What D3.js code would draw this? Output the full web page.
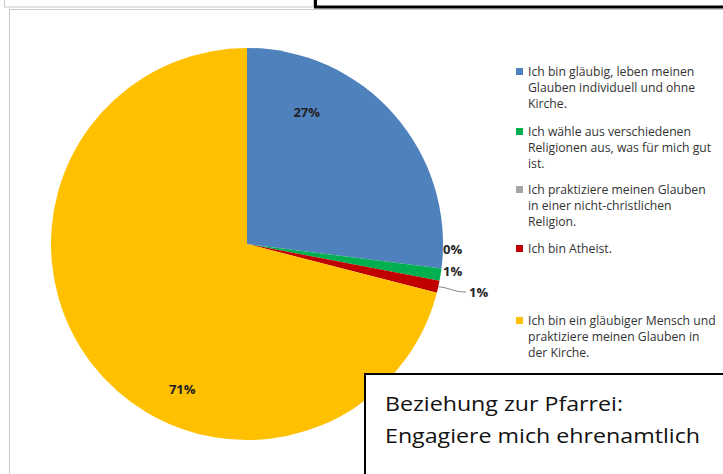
<!DOCTYPE html>
<html>
<head>
<meta charset="utf-8">
<script src="https://cdn.jsdelivr.net/npm/d3@7"></script>
<style>
  body { margin: 0; background: #fff; }
  svg { display: block; }
</style>
</head>
<body>
<div id="chart"></div>
<script>
// Antworten (Reihenfolge wie in der Legende)
const kategorien = [
  "Ich bin gläubig, leben meinen Glauben individuell und ohne Kirche.",
  "Ich wähle aus verschiedenen Religionen aus, was für mich gut ist.",
  "Ich praktiziere meinen Glauben in einer nicht-christlichen Religion.",
  "Ich bin Atheist.",
  "Ich bin ein gläubiger Mensch und praktiziere meinen Glauben in der Kirche."
];
const legendeZeilen = [
  ["Ich bin gläubig, leben meinen", "Glauben individuell und ohne", "Kirche."],
  ["Ich wähle aus verschiedenen", "Religionen aus, was für mich gut", "ist."],
  ["Ich praktiziere meinen Glauben", "in einer nicht-christlichen", "Religion."],
  ["Ich bin Atheist."],
  ["Ich bin ein gläubiger Mensch und", "praktiziere meinen Glauben in", "der Kirche."]
];
const werte = [27, 1, 0, 1, 71];
const farben = ["#4F81BD", "#00B050", "#A5A5A5", "#C00000", "#FFC000"];
const boxText = ["Beziehung zur Pfarrei:", "Engagiere mich ehrenamtlich"];

const W = 723, H = 474;
const svg = d3.select("#chart").append("svg")
  .attr("width", W).attr("height", H);

// Rahmen oben (Reste anderer Elemente)
svg.append("rect").attr("x", 4.5).attr("y", -5).attr("width", 309).attr("height", 12)
  .attr("fill", "none").attr("stroke", "#c8c8c8");
svg.append("rect").attr("x", 315.5).attr("y", -5).attr("width", 420).attr("height", 12)
  .attr("fill", "none").attr("stroke", "#000").attr("stroke-width", 3);

// Diagrammrahmen
svg.append("rect").attr("x", 9.5).attr("y", 9.5).attr("width", 730).attr("height", 480)
  .attr("fill", "#fff").attr("stroke", "#c8c8c8");

const cx = 247, cy = 244, r = 196;
const g = svg.append("g").attr("transform", `translate(${cx},${cy})`);

const pie = d3.pie().sort(null).value(d => d);
const arcs = pie(werte);
const arc = d3.arc().innerRadius(0).outerRadius(r);

g.selectAll("path")
  .data(arcs)
  .enter()
  .append("path")
  .attr("d", arc)
  .attr("fill", (d, i) => farben[i]);

// Beschriftungen
const fontLabel = "'Open Sans', sans-serif";
// Lage im Segment (Anteil des Winkels, Anteil des Radius) wie bei Excel "beste Anpassung"
const labelLage = { 0: [0.25, 0.74], 4: [0.39, 0.81] };
const grosse = arcs.filter(a => a.data >= 5);
g.selectAll("text.gross")
  .data(grosse)
  .enter()
  .append("text")
  .attr("class", "gross")
  .each(function (d) {
    const [f, rf] = labelLage[d.index];
    const a = d.startAngle + f * (d.endAngle - d.startAngle);
    d3.select(this)
      .attr("x", Math.sin(a) * r * rf)
      .attr("y", -Math.cos(a) * r * rf + 5);
  })
  .attr("text-anchor", "middle")
  .style("font-family", fontLabel)
  .style("font-size", "13px")
  .style("font-weight", "bold")
  .attr("fill", "#222")
  .text(d => d.data + "%");

// kleine Segmente: rechts außen gestapelt
const kleine = arcs.filter(a => a.data < 5).sort((a, b) => a.data - b.data || a.index - b.index);
kleine.forEach((d, k) => {
  const ly = 10 + k * 21.5;
  const lx = r + (k === 2 ? 26 : 0);
  if (k === 2) {
    const mid = (d.startAngle + d.endAngle) / 2;
    const px = Math.sin(mid) * r, py = -Math.cos(mid) * r;
    g.append("path")
      .attr("d", `M${px},${py} C${px + 12},${py + 1} ${lx - 16},${ly - 5} ${lx - 3},${ly - 5}`)
      .attr("fill", "none").attr("stroke", "#666").attr("stroke-width", 0.8);
  }
  g.append("text")
    .attr("x", lx).attr("y", ly)
    .style("font-family", fontLabel)
    .style("font-size", "13px")
    .style("font-weight", "bold")
    .attr("fill", "#222")
    .text(d.data + "%");
});

// Legende
const legY = [76, 136, 194, 253, 325];
const leg = svg.append("g");
legendeZeilen.forEach((zeilen, i) => {
  leg.append("rect")
    .attr("x", 516).attr("y", legY[i] - 8)
    .attr("width", 7).attr("height", 7)
    .attr("fill", farben[i]);
  zeilen.forEach((z, j) => {
    leg.append("text")
      .attr("x", 528).attr("y", legY[i] + j * 16)
      .style("font-family", fontLabel)
      .style("font-size", "12.2px")
      .attr("fill", "#333")
      .text(z);
  });
});

// Kasten unten rechts
svg.append("rect").attr("x", 365).attr("y", 374).attr("width", 400).attr("height", 120)
  .attr("fill", "#fff").attr("stroke", "#000").attr("stroke-width", 2);
const boxBreite = [238, 315];
boxText.forEach((t, i) => {
  svg.append("text")
    .attr("x", 385).attr("y", 411 + i * 32)
    .style("font-family", "'Open Sans', sans-serif")
    .style("font-size", "20px")
    .attr("textLength", boxBreite[i])
    .attr("lengthAdjust", "spacingAndGlyphs")
    .attr("fill", "#111")
    .text(t);
});
</script>
</body>
</html>
